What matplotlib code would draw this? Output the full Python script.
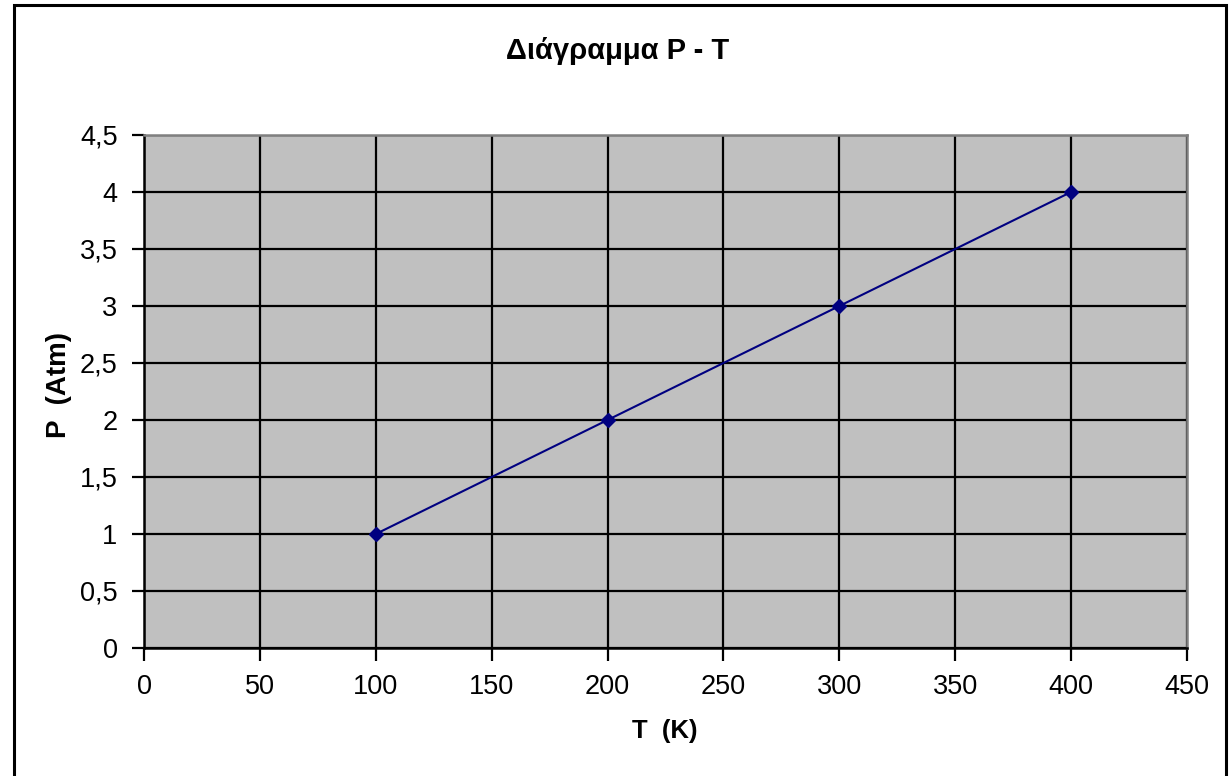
import matplotlib
matplotlib.use('Agg')
import matplotlib.pyplot as plt
from matplotlib.patches import Rectangle

# data
T = [100, 200, 300, 400]
P = [1, 2, 3, 4]

x_ticks = [0, 50, 100, 150, 200, 250, 300, 350, 400, 450]
y_ticks = [0, 0.5, 1, 1.5, 2, 2.5, 3, 3.5, 4, 4.5]
y_tick_labels = ['0', '0,5', '1', '1,5', '2', '2,5', '3', '3,5', '4', '4,5']

plt.rcParams['font.family'] = ['Liberation Sans', 'DejaVu Sans']

W, H = 1230, 776
fig = plt.figure(figsize=(W / 100, H / 100), dpi=100)

# plot area in pixels
left, right, top, bottom = 144, 1187, 135, 648
ax = fig.add_axes([left / W, 1 - bottom / H, (right - left) / W, (bottom - top) / H])
ax.set_facecolor('#c0c0c0')

ax.plot(T, P, color='#000080', linewidth=1.5, marker='D', markersize=7,
        markerfacecolor='#000080', markeredgecolor='#000080', zorder=5)

ax.set_xlim(0, 450)
ax.set_ylim(0, 4.5)
ax.set_xticks(x_ticks)
ax.set_yticks(y_ticks)
ax.set_yticklabels(y_tick_labels)
ax.grid(True, color='black', linewidth=1.6)
ax.set_axisbelow(True)

ax.tick_params(direction='out', length=9, width=1.6, colors='black',
               labelsize=19.5, pad=10)
for side in ['left', 'bottom']:
    ax.spines[side].set_color('black')
    ax.spines[side].set_linewidth(1.8)
for side in ['top', 'right']:
    ax.spines[side].set_color('#808080')
    ax.spines[side].set_linewidth(1.8)

# axis titles placed at the reference positions
fig.text(665 / W, 1 - 731 / H, 'T  (K)', fontsize=18.5, fontweight='bold',
         ha='center', va='center')
fig.text(59 / W, 1 - 385 / H, 'P  (Atm)', fontsize=20, fontweight='bold',
         ha='center', va='center', rotation=90)

fig.text(618 / W, 1 - 51 / H, 'Διάγραμμα P - T', fontsize=21,
         fontweight='bold', ha='center', va='center')

# outer chart border
fig.patches.append(Rectangle((14 / W, -0.05), (1226 - 14) / W, 1.05 - 5 / H,
                             transform=fig.transFigure, fill=False,
                             edgecolor='black', linewidth=2.2))

fig.savefig('out.png', dpi=100)
